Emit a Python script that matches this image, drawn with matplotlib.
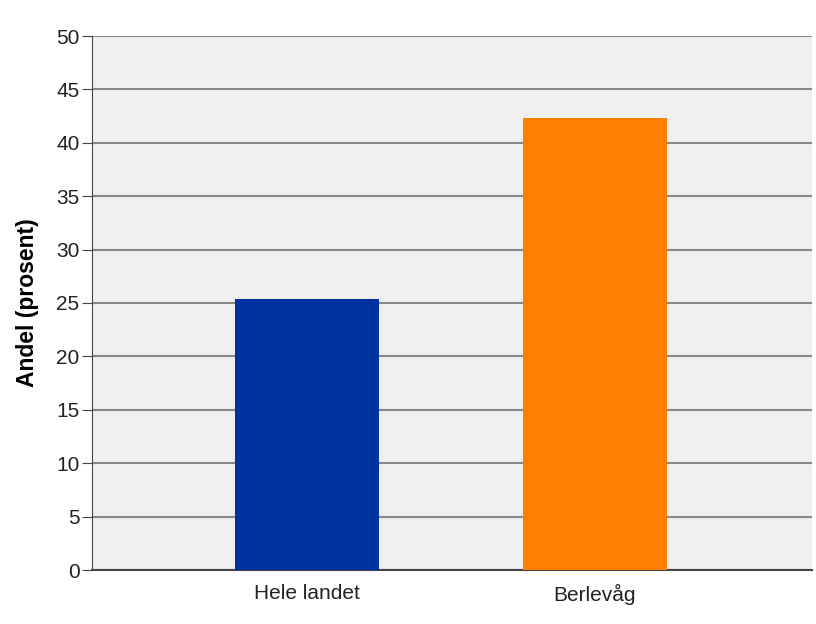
import numpy as np
import matplotlib.pyplot as plt

plt.rcParams['font.family'] = ['Liberation Sans', 'DejaVu Sans']

categories = ["Hele landet", "Berlevåg"]
values = [25.4, 42.3]
colors = ["#0033a0", "#ff8000"]
yticks = [0, 5, 10, 15, 20, 25, 30, 35, 40, 45, 50]

fig = plt.figure(figsize=(8.16, 6.24), dpi=100)
ax = fig.add_axes([92 / 816, 1 - 570 / 624, 720 / 816, 534 / 624])
ax.set_facecolor("#efefef")

x = np.arange(len(categories))
ax.bar(x, values, width=0.5, color=colors, zorder=3)

ax.set_xlim(-0.745, 1.755)
ax.set_ylim(0, 50)
ax.set_yticks(yticks)
ax.set_xticks(x)
ax.set_xticklabels(categories)

# horizontal grid lines behind the bars
ax.yaxis.grid(True, color="#888888", linewidth=1.5, zorder=1)
ax.set_axisbelow(True)

for side in ["top", "right"]:
    ax.spines[side].set_visible(False)
ax.spines["left"].set_color("#444444")
ax.spines["bottom"].set_color("#444444")
ax.spines["bottom"].set_linewidth(1.5)

ax.tick_params(axis="y", length=7, color="#444444", labelsize=15, pad=2, labelcolor="#222222")
ax.tick_params(axis="x", length=0, labelsize=15, pad=10, labelcolor="#222222")

ax.set_ylabel("Andel (prosent)", fontsize=16.5, fontweight="bold", labelpad=12)

fig.savefig("out.png", dpi=100)
